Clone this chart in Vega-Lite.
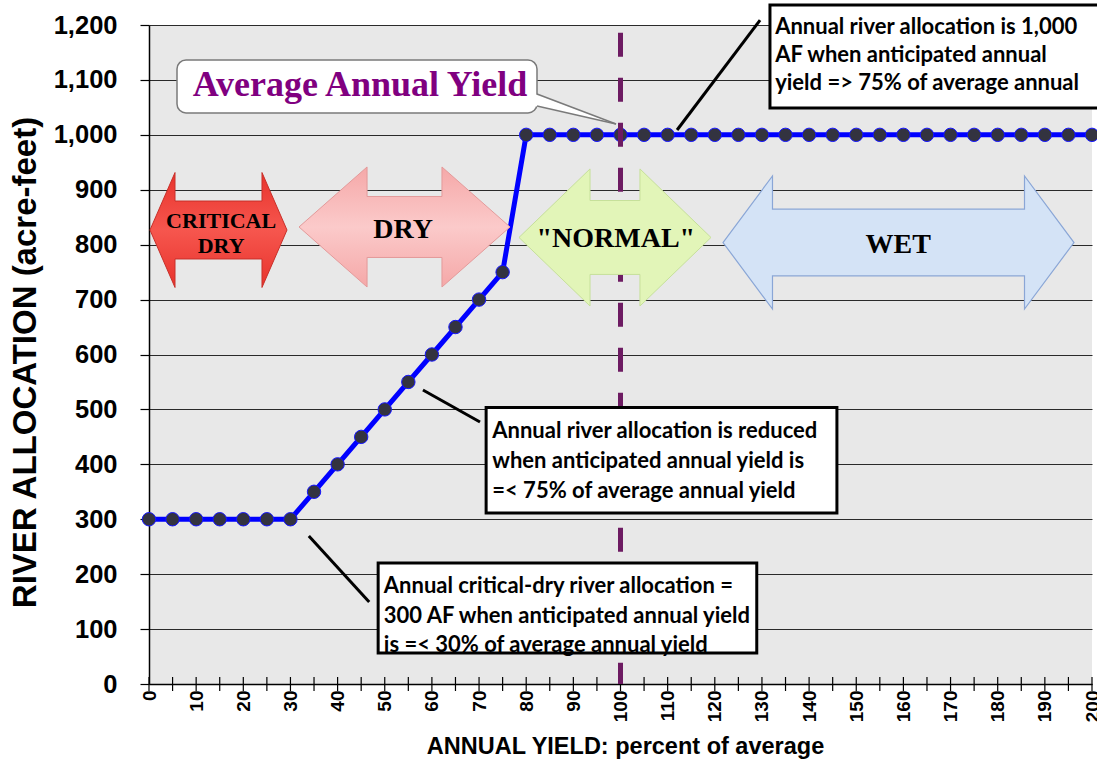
{
  "$schema": "https://vega.github.io/schema/vega-lite/v6.json",
  "width": 943,
  "height": 659,
  "autosize": {"type": "none"},
  "padding": {"left": 149, "top": 25, "right": 5, "bottom": 77},
  "background": "white",
  "config": {"view": {"fill": "#e8e8e8", "stroke": null}, "font": "Liberation Sans"},
  "datasets": {
    "alloc": [
      {"x": 0, "y": 300}, {"x": 5, "y": 300}, {"x": 10, "y": 300}, {"x": 15, "y": 300}, {"x": 20, "y": 300}, {"x": 25, "y": 300}, {"x": 30, "y": 300},
      {"x": 35, "y": 350}, {"x": 40, "y": 400}, {"x": 45, "y": 450}, {"x": 50, "y": 500}, {"x": 55, "y": 550}, {"x": 60, "y": 600}, {"x": 65, "y": 650}, {"x": 70, "y": 700}, {"x": 75, "y": 750},
      {"x": 80, "y": 1000}, {"x": 85, "y": 1000}, {"x": 90, "y": 1000}, {"x": 95, "y": 1000}, {"x": 100, "y": 1000}, {"x": 105, "y": 1000}, {"x": 110, "y": 1000}, {"x": 115, "y": 1000}, {"x": 120, "y": 1000}, {"x": 125, "y": 1000}, {"x": 130, "y": 1000}, {"x": 135, "y": 1000}, {"x": 140, "y": 1000}, {"x": 145, "y": 1000}, {"x": 150, "y": 1000}, {"x": 155, "y": 1000}, {"x": 160, "y": 1000}, {"x": 165, "y": 1000}, {"x": 170, "y": 1000}, {"x": 175, "y": 1000}, {"x": 180, "y": 1000}, {"x": 185, "y": 1000}, {"x": 190, "y": 1000}, {"x": 195, "y": 1000}, {"x": 200, "y": 1000}
    ],
    "zones": [
      {"zone": "CRITICAL DRY", "x": 14.74, "y": 826.7},
      {"zone": "DRY", "x": 54.19, "y": 832.2},
      {"zone": "NORMAL", "x": 98.83, "y": 813.1},
      {"zone": "WET", "x": 158.96, "y": 803.9}
    ],
    "zoneLabels": [
      {"zone": "CRITICAL DRY", "t": "CRITICAL", "x": 15.3, "y": 843.0},
      {"zone": "CRITICAL DRY", "t": "DRY", "x": 15.3, "y": 798.0},
      {"zone": "DRY", "t": "DRY", "x": 53.9, "y": 826.7},
      {"zone": "NORMAL", "t": "\"NORMAL\"", "x": 99.0, "y": 810.3},
      {"zone": "WET", "t": "WET", "x": 158.9, "y": 799.4}
    ],
    "boxes": [
      {"x1": 131.7, "x2": 201.8, "y1": 1236.4, "y2": 1048.9},
      {"x1": 71.5, "x2": 145.9, "y1": 503.5, "y2": 311.4},
      {"x1": 48.6, "x2": 128.9, "y1": 220.3, "y2": 56.4}
    ],
    "boxText": [
      {"t": "Annual river allocation is 1,000", "x": 132.8, "y": 1196.4},
      {"t": "AF when anticipated annual", "x": 132.8, "y": 1145.4},
      {"t": "yield => 75% of average annual", "x": 132.8, "y": 1094.4},
      {"t": "Annual river allocation is reduced", "x": 72.8, "y": 460.7},
      {"t": "when anticipated annual yield is", "x": 72.8, "y": 406.1},
      {"t": "=< 75% of average annual yield", "x": 72.8, "y": 351.4},
      {"t": "Annual critical-dry river allocation =", "x": 49.8, "y": 178.5},
      {"t": "300 AF when anticipated annual yield", "x": 49.8, "y": 123.8},
      {"t": "is =< 30% of average annual yield", "x": 49.8, "y": 71.0}
    ],
    "leaders": [
      {"x1": 129.6, "y1": 1209, "x2": 112.0, "y2": 1008.8},
      {"x1": 58.1, "y1": 535.4, "x2": 70.2, "y2": 477.1},
      {"x1": 33.9, "y1": 269.5, "x2": 46.7, "y2": 149.3}
    ],
    "avgBox": [{"x1": 5.94, "x2": 82.29, "y1": 1136.3, "y2": 1039.8, "t": "Average Annual Yield", "tx": 44.75, "ty": 1090.7}],
    "pointerFill": [
      {"px": 81.8, "top": 1074.4, "bot": 1052.5},
      {"px": 99.05, "top": 1019.7, "bot": 1019.7}
    ],
    "pointerEdges": [
      {"x1": 82.29, "y1": 1074.4, "x2": 99.05, "y2": 1019.7},
      {"x1": 82.29, "y1": 1052.5, "x2": 99.05, "y2": 1019.7}
    ]
  },
  "encoding": {
    "x": {"type": "quantitative",
      "scale": {"domain": [0, 200], "nice": false, "zero": false},
      "axis": {"values": [0, 10, 20, 30, 40, 50, 60, 70, 80, 90, 100, 110, 120, 130, 140, 150, 160, 170, 180, 190, 200],
        "labelExpr": "format(datum.value, 'd')",
        "ticks": false, "grid": false, "domainColor": "black", "domainWidth": 1.5,
        "labelAngle": 270, "labelFontSize": 19, "labelFontWeight": "bold", "labelColor": "black", "labelPadding": 6, "labelOverlap": false, "labelFlush": false,
        "title": "ANNUAL YIELD: percent of average", "titleFontSize": 23.5, "titleFontWeight": "bold", "titleColor": "black",
        "titleX": 476, "titleY": 69, "titleAlign": "center", "titleBaseline": "alphabetic"}},
    "y": {"type": "quantitative",
      "scale": {"domain": [0, 1200], "nice": false, "zero": true},
      "axis": {"values": [0, 100, 200, 300, 400, 500, 600, 700, 800, 900, 1000, 1100, 1200],
        "labelExpr": "format(datum.value, ',')",
        "grid": true, "gridColor": "#2a2a2a", "gridWidth": 1, "gridOpacity": 1,
        "tickSize": 9, "tickColor": "black", "tickWidth": 1.2, "domainColor": "black", "domainWidth": 1.5,
        "labelFontSize": 25.5, "labelFontWeight": "bold", "labelColor": "black", "labelPadding": 23, "labelOverlap": false, "labelFlush": false,
        "title": "RIVER ALLOCATION (acre-feet)", "titleFontSize": 33, "titleFontWeight": "bold", "titleColor": "black",
        "titleX": -124, "titleY": 337, "titleAngle": 270, "titleAlign": "center", "titleBaseline": "middle"}}
  },
  "layer": [
    {
      "data": {"name": "alloc"},
      "mark": {"type": "line", "color": "#0000ff", "strokeWidth": 5},
      "encoding": {
        "x": {"field": "x"},
        "y": {"field": "y"}
      }
    },
    {
      "data": {"name": "alloc"},
      "mark": {"type": "point", "filled": true, "fill": "#333340", "stroke": "#1515ff", "strokeWidth": 1, "size": 180, "opacity": 1},
      "encoding": {
        "x": {"field": "x"},
        "y": {"field": "y"}
      }
    },
    {
      "data": {"name": "alloc"},
      "mark": {"type": "tick", "orient": "vertical", "size": 14, "thickness": 1.2, "color": "black", "opacity": 1},
      "encoding": {
        "x": {"field": "x"},
        "y": {"datum": 0}
      }
    },
    {
      "data": {"values": [{"avg": 100}]},
      "mark": {"type": "rule", "color": "#6d1b62", "strokeWidth": 5, "strokeDash": [24, 21]},
      "encoding": {
        "x": {"field": "avg"},
        "y": {"datum": 1186},
        "y2": {"datum": 0}
      }
    },
    {
      "data": {"name": "zones"},
      "transform": [{"filter": "datum.zone === 'CRITICAL DRY'"}],
      "mark": {"type": "point", "filled": true, "opacity": 1, "size": 18769, "strokeWidth": 1,
        "shape": "M-1,0L-0.635,-0.839L-0.635,-0.423L0.635,-0.423L0.635,-0.839L1,0L0.635,0.839L0.635,0.423L-0.635,0.423L-0.635,0.839Z",
        "fill": {"gradient": "linear", "x1": 0, "y1": 0, "x2": 0, "y2": 1, "stops": [{"offset": 0, "color": "#e8332c"}, {"offset": 0.5, "color": "#f6564e"}, {"offset": 1, "color": "#e8332c"}]},
        "stroke": "#c8302a"},
      "encoding": {
        "x": {"field": "x"},
        "y": {"field": "y"}
      }
    },
    {
      "data": {"name": "zones"},
      "transform": [{"filter": "datum.zone === 'DRY'"}],
      "mark": {"type": "point", "filled": true, "opacity": 1, "size": 44521, "strokeWidth": 1,
        "shape": "M-1,0L-0.355,-0.569L-0.355,-0.289L0.355,-0.289L0.355,-0.569L1,0L0.355,0.569L0.355,0.289L-0.355,0.289L-0.355,0.569Z",
        "fill": {"gradient": "linear", "x1": 0, "y1": 0, "x2": 0, "y2": 1, "stops": [{"offset": 0, "color": "#f5a8a8"}, {"offset": 0.5, "color": "#fbcaca"}, {"offset": 1, "color": "#f5a8a8"}]},
        "stroke": "#e39a9a"},
      "encoding": {
        "x": {"field": "x"},
        "y": {"field": "y"}
      }
    },
    {
      "data": {"name": "zones"},
      "transform": [{"filter": "datum.zone === 'NORMAL'"}],
      "mark": {"type": "point", "filled": true, "opacity": 1, "size": 36864, "strokeWidth": 1,
        "shape": "M-1,0L-0.26,-0.714L-0.26,-0.385L0.26,-0.385L0.26,-0.714L1,0L0.26,0.714L0.26,0.385L-0.26,0.385L-0.26,0.714Z",
        "fill": "#e2f5b8", "stroke": "#c6e09a"},
      "encoding": {
        "x": {"field": "x"},
        "y": {"field": "y"}
      }
    },
    {
      "data": {"name": "zones"},
      "transform": [{"filter": "datum.zone === 'WET'"}],
      "mark": {"type": "point", "filled": true, "opacity": 1, "size": 123201, "strokeWidth": 1.2,
        "shape": "M-1,0L-0.718,-0.379L-0.718,-0.19L0.718,-0.19L0.718,-0.379L1,0L0.718,0.379L0.718,0.19L-0.718,0.19L-0.718,0.379Z",
        "fill": "#d4e3f6", "stroke": "#8aa6d6"},
      "encoding": {
        "x": {"field": "x"},
        "y": {"field": "y"}
      }
    },
    {
      "data": {"name": "zoneLabels"},
      "transform": [{"filter": "datum.zone === 'CRITICAL DRY'"}],
      "mark": {"type": "text", "font": "Liberation Serif", "fontWeight": "bold", "fontSize": 22, "color": "black", "align": "center", "baseline": "middle"},
      "encoding": {
        "x": {"field": "x"},
        "y": {"field": "y"},
        "text": {"field": "t"}
      }
    },
    {
      "data": {"name": "zoneLabels"},
      "transform": [{"filter": "datum.zone !== 'CRITICAL DRY'"}],
      "mark": {"type": "text", "font": "Liberation Serif", "fontWeight": "bold", "fontSize": 28, "color": "black", "align": "center", "baseline": "middle"},
      "encoding": {
        "x": {"field": "x"},
        "y": {"field": "y"},
        "text": {"field": "t"}
      }
    },
    {
      "data": {"name": "leaders"},
      "mark": {"type": "rule", "color": "black", "strokeWidth": 3},
      "encoding": {
        "x": {"field": "x1"},
        "y": {"field": "y1"},
        "x2": {"field": "x2"},
        "y2": {"field": "y2"}
      }
    },
    {
      "data": {"name": "boxes"},
      "mark": {"type": "rect", "fill": "white", "stroke": "black", "strokeWidth": 3},
      "encoding": {
        "x": {"field": "x1"},
        "x2": {"field": "x2"},
        "y": {"field": "y1"},
        "y2": {"field": "y2"}
      }
    },
    {
      "data": {"name": "boxText"},
      "mark": {"type": "text", "font": "Lato", "fontWeight": "bold", "fontSize": 22, "color": "black", "align": "left", "baseline": "middle"},
      "encoding": {
        "x": {"field": "x"},
        "y": {"field": "y"},
        "text": {"field": "t"}
      }
    },
    {
      "data": {"name": "avgBox"},
      "mark": {"type": "rect", "fill": "white", "stroke": "#7a7a7a", "strokeWidth": 1.5, "cornerRadius": 9},
      "encoding": {
        "x": {"field": "x1"},
        "x2": {"field": "x2"},
        "y": {"field": "y1"},
        "y2": {"field": "y2"}
      }
    },
    {
      "data": {"name": "pointerFill"},
      "mark": {"type": "area", "color": "white", "opacity": 1},
      "encoding": {
        "x": {"field": "px"},
        "y": {"field": "top"},
        "y2": {"field": "bot"}
      }
    },
    {
      "data": {"name": "pointerEdges"},
      "mark": {"type": "rule", "color": "#7a7a7a", "strokeWidth": 1.5},
      "encoding": {
        "x": {"field": "x1"},
        "y": {"field": "y1"},
        "x2": {"field": "x2"},
        "y2": {"field": "y2"}
      }
    },
    {
      "data": {"name": "avgBox"},
      "mark": {"type": "text", "font": "Liberation Serif", "fontWeight": "bold", "fontSize": 36, "color": "#800080", "align": "center", "baseline": "middle"},
      "encoding": {
        "x": {"field": "tx"},
        "y": {"field": "ty"},
        "text": {"field": "t"}
      }
    }
  ]
}
